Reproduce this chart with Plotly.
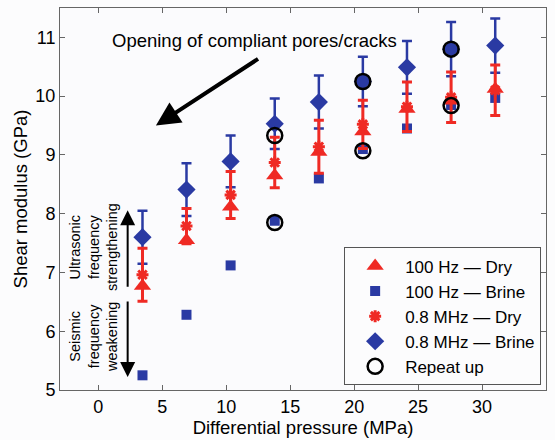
import plotly.graph_objects as go

pressure = [3.45, 6.89, 10.34, 13.79, 17.24, 20.68, 24.13, 27.58, 31.03]
hz100_dry = [6.77, 7.55, 8.12, 8.65, 9.05, 9.40, 9.78, 9.92, 10.12]
hz100_brine = [5.25, 6.28, 7.12, 7.88, 8.60, 9.10, 9.45, 9.85, 9.97]
mhz_dry = [6.96, 7.79, 8.32, 8.87, 9.14, 9.52, 9.82, 9.98, 10.10]
mhz_dry_err = [0.45, 0.30, 0.40, 0.43, 0.45, 0.41, 0.42, 0.43, 0.43]
mhz_brine = [7.60, 8.41, 8.89, 9.53, 9.90, 10.25, 10.49, 10.80, 10.86]
mhz_brine_err = [0.45, 0.45, 0.44, 0.43, 0.45, 0.42, 0.45, 0.46, 0.46]
repeat_x = [13.79, 13.79, 20.68, 20.68, 27.58, 27.58]
repeat_y = [9.33, 7.85, 10.25, 9.07, 10.80, 9.84]

RED = "#ef2a24"
BLUE = "#2a3aa3"
FONT = "Liberation Sans, Arial, sans-serif"

fig = go.Figure()

fig.add_trace(go.Scatter(x=pressure, y=hz100_brine, mode="markers", name="100 Hz — Brine",
                         legendrank=2,
                         marker=dict(symbol="square", size=10, color=BLUE)))
fig.add_trace(go.Scatter(x=pressure, y=mhz_brine, mode="markers", name="0.8 MHz — Brine",
                         legendrank=4,
                         error_y=dict(type="data", array=mhz_brine_err, color=BLUE, thickness=2.5, width=5),
                         marker=dict(symbol="diamond", size=14, color=BLUE)))
fig.add_trace(go.Scatter(x=pressure, y=hz100_dry, mode="markers", name="100 Hz — Dry",
                         legendrank=1,
                         marker=dict(symbol="triangle-up", size=15, color=RED)))
fig.add_trace(go.Scatter(x=pressure, y=mhz_dry, mode="markers", name="0.8 MHz — Dry",
                         legendrank=3,
                         error_y=dict(type="data", array=mhz_dry_err, color=RED, thickness=3, width=5),
                         marker=dict(symbol="asterisk-open", size=10, color=RED, line=dict(color=RED, width=3))))
fig.add_trace(go.Scatter(x=repeat_x, y=repeat_y, mode="markers", name="Repeat up",
                         legendrank=5,
                         marker=dict(symbol="circle-open", size=15, color="black", line=dict(color="black", width=2.5))))

annotations = [
    dict(x=12.2, y=10.95, text="Opening of compliant pores/cracks", showarrow=False,
         font=dict(size=18.5, color="black", family=FONT), xref="x", yref="y"),
    dict(x=4.5, y=9.50, ax=12.6, ay=10.65, axref="x", ayref="y", xref="x", yref="y",
         text="", showarrow=True, arrowhead=2, arrowsize=1.2, arrowwidth=4, arrowcolor="black"),
    dict(x=2.29, y=8.06, ax=2.29, ay=6.73, axref="x", ayref="y", xref="x", yref="y",
         text="", showarrow=True, arrowhead=2, arrowsize=1.5, arrowwidth=2, arrowcolor="black"),
    dict(x=2.29, y=5.22, ax=2.29, ay=6.53, axref="x", ayref="y", xref="x", yref="y",
         text="", showarrow=True, arrowhead=2, arrowsize=1.5, arrowwidth=2, arrowcolor="black"),
    dict(x=-0.35, y=7.43, text="Ultrasonic<br>frequency<br>strengthening", showarrow=False, textangle=-90,
         font=dict(size=14.5, color="black", family=FONT), xref="x", yref="y"),
    dict(x=-0.35, y=5.90, text="Seismic<br>frequency<br>weakening", showarrow=False, textangle=-90,
         font=dict(size=14.5, color="black", family=FONT), xref="x", yref="y"),
]

axis_common = dict(showgrid=False, zeroline=False, showline=True, linecolor="#666666", linewidth=1,
                   mirror="ticks", ticks="inside", ticklen=5, tickcolor="#666666",
                   tickfont=dict(size=18, color="black", family=FONT))

fig.update_layout(
    width=555, height=440,
    margin=dict(l=60, r=9, t=8, b=50),
    paper_bgcolor="#fcfcfd", plot_bgcolor="#fbfbfd",
    font=dict(family=FONT, color="black"),
    xaxis=dict(range=[-3, 35], tickvals=[0, 5, 10, 15, 20, 25, 30, 35],
               title=dict(text="Differential pressure (MPa)", font=dict(size=18.5), standoff=2), **axis_common),
    yaxis=dict(range=[5, 11.5], tickvals=[5, 6, 7, 8, 9, 10, 11],
               title=dict(text="Shear modulus (GPa)", font=dict(size=18.5), standoff=2), **axis_common),
    legend=dict(x=0.99, y=0.012, xanchor="right", yanchor="bottom",
                bgcolor="#fcfcfd", bordercolor="#555555", borderwidth=1,
                font=dict(size=17, family=FONT), tracegroupgap=0, itemsizing="trace",
                itemwidth=50),
    annotations=annotations,
    showlegend=True,
)

fig.write_html("out.html")
